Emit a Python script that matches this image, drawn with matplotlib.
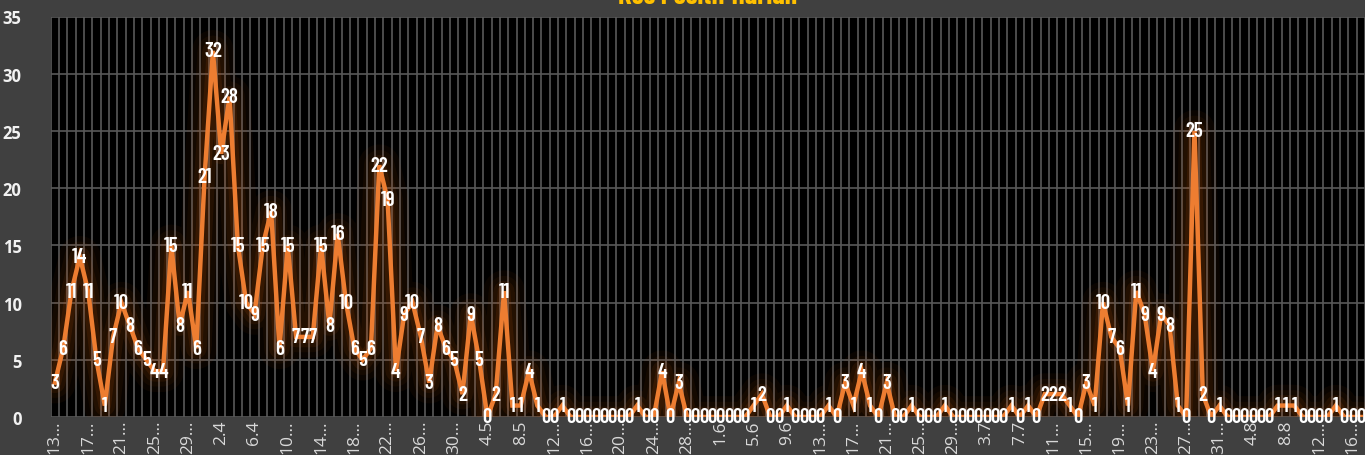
import matplotlib
matplotlib.use('Agg')
import matplotlib.pyplot as plt
import numpy as np

# Kes positif harian, one value per day starting 13.3
cases = [3, 6, 11, 14, 11, 5, 1, 7, 10, 8, 6, 5, 4, 4, 15, 8, 11, 6, 21, 32,
         23, 28, 15, 10, 9, 15, 18, 6, 15, 7, 7, 7, 15, 8, 16, 10, 6, 5, 6, 22,
         19, 4, 9, 10, 7, 3, 8, 6, 5, 2, 9, 5, 0, 2, 11, 1, 1, 4, 1, 0,
         0, 1, 0, 0, 0, 0, 0, 0, 0, 0, 1, 0, 0, 4, 0, 3, 0, 0, 0, 0,
         0, 0, 0, 0, 1, 2, 0, 0, 1, 0, 0, 0, 0, 1, 0, 3, 1, 4, 1, 0,
         3, 0, 0, 1, 0, 0, 0, 1, 0, 0, 0, 0, 0, 0, 0, 1, 0, 1, 0, 2,
         2, 2, 1, 0, 3, 1, 10, 7, 6, 1, 11, 9, 4, 9, 8, 1, 0, 25, 2, 0,
         1, 0, 0, 0, 0, 0, 0, 1, 1, 1, 0, 0, 0, 0, 1, 0, 0, 0]

# every 4th day gets a label (Excel cut the long ones)
tick_labels = ["13…", "17…", "21…", "25…", "29…", "2.4", "6.4", "10…", "14…", "18…",
               "22…", "26…", "30…", "4.5", "8.5", "12…", "16…", "20…", "24…", "28…",
               "1.6", "5.6", "9.6", "13…", "17…", "21…", "25…", "29…", "3.7", "7.7",
               "11…", "15…", "19…", "23…", "27…", "31…", "4.8", "8.8", "12…", "16…"]

title = "Kes Positif Harian"

orange = '#ED7D31'
narrow = ['Barlow Condensed', 'Archivo Narrow', 'DejaVu Sans']
x = np.arange(len(cases))

fig = plt.figure(figsize=(13.65, 4.56), dpi=100)
fig.patch.set_facecolor('#404040')
ax = fig.add_axes([50.7 / 1365, 38 / 456, 1 - 50.7 / 1365, (418 - 17.5) / 456])
ax.set_facecolor('black')

# soft glow behind the line
for w, a in [(30, 0.05), (22, 0.06), (15, 0.09), (9, 0.12)]:
    ax.plot(x, cases, color='#C55A11', linewidth=w, alpha=a,
            solid_joinstyle='round', solid_capstyle='round', zorder=2)
ax.plot(x, cases, color=orange, linewidth=3.2, zorder=3,
        solid_joinstyle='miter')

for xi, v in zip(x, cases):
    ax.text(xi, v, str(v), color='white', fontsize=15, fontweight='semibold',
            family=narrow, ha='center', va='center', zorder=4)

ax.set_xlim(-0.5, (1365 - 50.7) / 8.32 - 0.5)
ax.set_ylim(0, 35)
ax.set_yticks(range(0, 36, 5))
ax.set_xticks(x[::4][:len(tick_labels)])
ax.set_xticklabels(tick_labels, rotation=90, color='#d9d9d9', fontsize=12.5,
                   family=['Open Sans', 'DejaVu Sans'], va='top', ha='center')
ax.set_xticks(np.arange(-0.5, len(cases) + 0.5, 1), minor=True)
for lab in ax.get_yticklabels():
    lab.set_color('#f2f2f2')
    lab.set_fontsize(12)
    lab.set_fontweight('bold')
    lab.set_family(['Open Sans', 'DejaVu Sans'])
ax.tick_params(axis='y', length=0, pad=21)
ax.tick_params(axis='x', which='both', length=0, pad=2)

ax.grid(axis='y', which='major', color='#595959', linewidth=1.2, zorder=1)
ax.grid(axis='x', which='minor', color='#595959', linewidth=1.2, zorder=1)
ax.set_axisbelow(True)
for s in ax.spines.values():
    s.set_visible(False)

fig.text(708 / 1365, 1 - 4 / 456, title, color='#FFC000', fontsize=20,
         fontweight='bold', family=narrow, ha='center', va='baseline')

fig.savefig('out.png', dpi=100, facecolor=fig.get_facecolor())
